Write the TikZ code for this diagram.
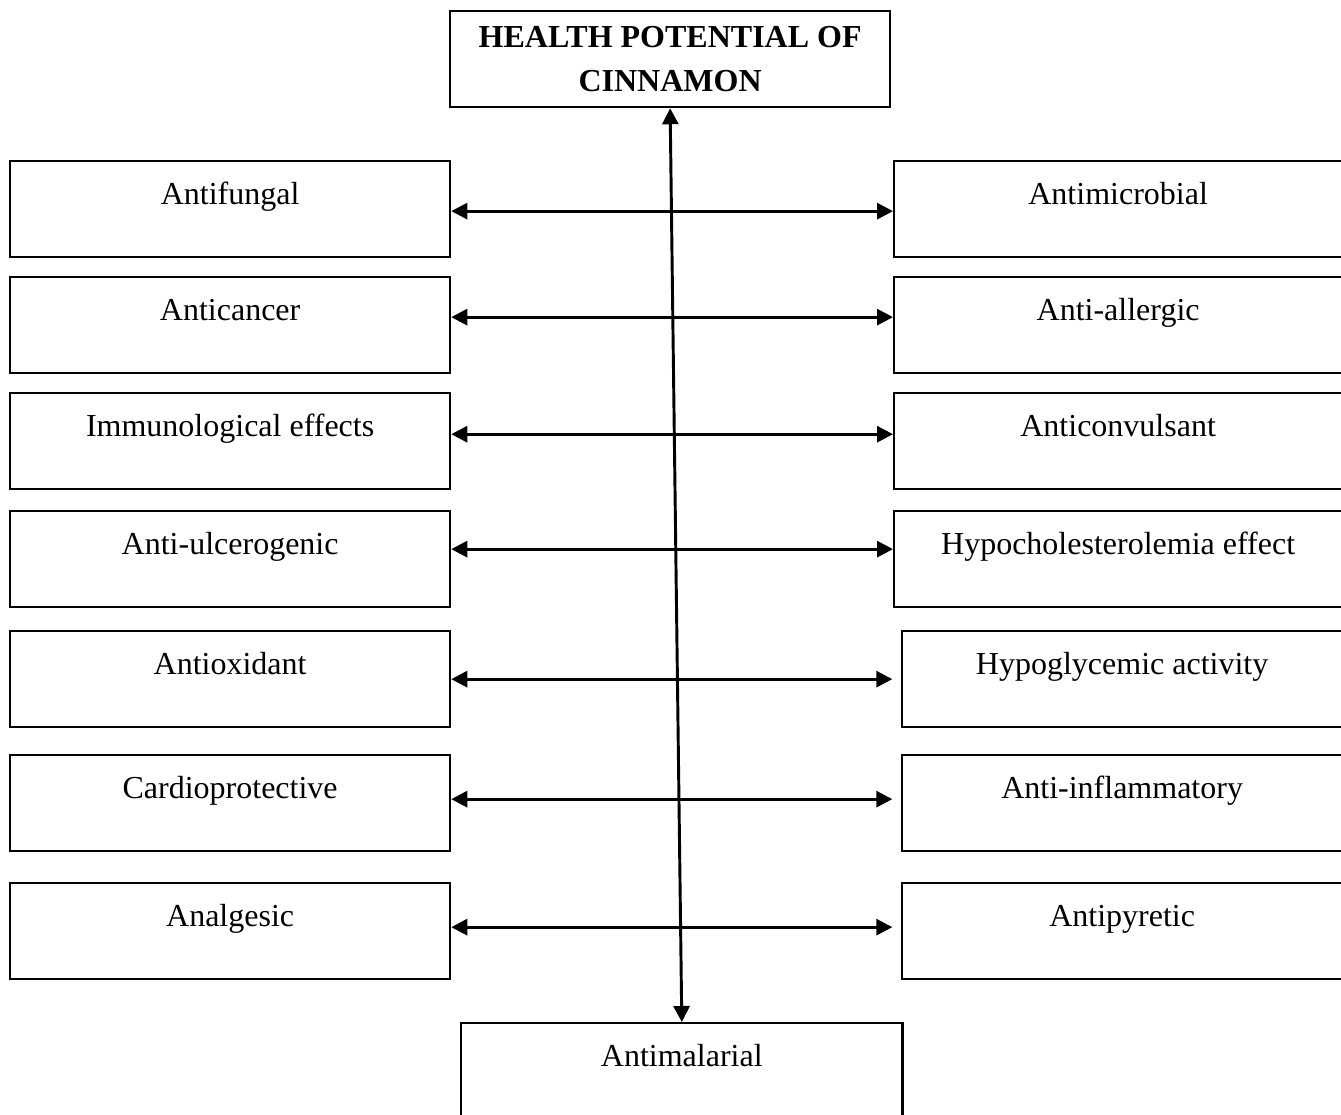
\documentclass[tikz,border=0pt]{standalone}
\usepackage{fontspec}
\setmainfont{Liberation Serif}
\usetikzlibrary{arrows.meta}
\begin{document}
\begin{tikzpicture}[x=0.75pt, y=-0.75pt, >={Triangle[length=12pt,width=12pt]},
          font=\fontsize{24}{31}\selectfont,
          effect/.style={draw, line width=1.7pt, anchor=north west, inner sep=0pt,
                         minimum width=330pt, minimum height=72pt,
                         text height=16.8pt, text depth=23.1pt},
          wideeffect/.style={effect, minimum width=336pt},
          title/.style={draw, line width=1.7pt, anchor=north west, inner sep=0pt,
                        minimum width=330pt, minimum height=72pt, align=center,
                        font=\fontsize{24}{32}\selectfont\bfseries},
          link/.style={<->, line width=2.2pt}]
        \useasboundingbox (0,0) rectangle (1341,1114);
        \node[title] (health) at (449,10) {HEALTH POTENTIAL OF\\[1pt]CINNAMON};
        \node[effect] (antifungal) at (9,160) {Antifungal};
        \node[effect] (anticancer) at (9,276) {Anticancer};
        \node[effect] (immuno) at (9,392) {Immunological effects};
        \node[effect] (antiulcer) at (9,510) {Anti-ulcerogenic};
        \node[effect] (antioxidant) at (9,630) {Antioxidant};
        \node[effect] (cardio) at (9,754) {Cardioprotective};
        \node[effect] (analgesic) at (9,882) {Analgesic};
        \node[wideeffect] (antimicrobial) at (893,160) {Antimicrobial};
        \node[wideeffect] (antiallergic) at (893,276) {Anti-allergic};
        \node[wideeffect] (anticonv) at (893,392) {Anticonvulsant};
        \node[wideeffect] (hypochol) at (893,510) {Hypocholesterolemia effect};
        \node[effect] (hypogly) at (901,630) {Hypoglycemic activity};
        \node[effect] (antiinfl) at (901,754) {Anti-inflammatory};
        \node[effect] (antipyretic) at (901,882) {Antipyretic};
        \node[effect, minimum width=331pt] (antimalarial) at (460,1022) {Antimalarial};
        \draw[link] ([yshift=-1.5pt]antifungal.east) -- ([yshift=-1.5pt]antimicrobial.west);
        \draw[link] ([yshift=6pt]anticancer.east) -- ([yshift=6pt]antiallergic.west);
        \draw[link] ([yshift=5.2pt]immuno.east) -- ([yshift=5.2pt]anticonv.west);
        \draw[link] ([yshift=7.5pt]antiulcer.east) -- ([yshift=7.5pt]hypochol.west);
        \draw[link] (antioxidant.east) -- ([xshift=-6.5pt]hypogly.west);
        \draw[link] ([yshift=3pt]cardio.east) -- ([xshift=-6.5pt, yshift=3pt]antiinfl.west);
        \draw[link] ([yshift=3pt]analgesic.east) -- ([xshift=-6.5pt, yshift=3pt]antipyretic.west);
        \draw[link] (health.south) -- (antimalarial.north);
      \end{tikzpicture}
\end{document}
